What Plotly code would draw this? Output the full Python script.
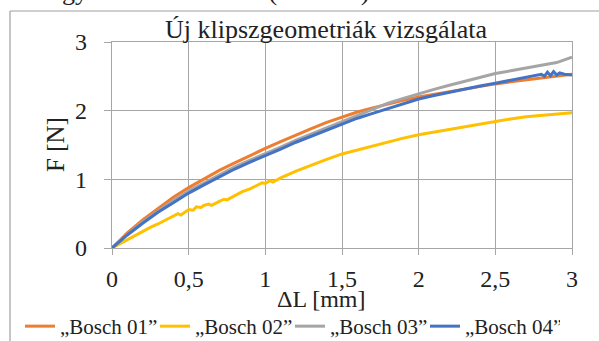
import plotly.graph_objects as go

# ---- data ----
x_common = [0, 0.1, 0.2, 0.3, 0.4, 0.5, 0.6, 0.7, 0.8, 0.9, 1.0, 1.1, 1.2, 1.3, 1.4, 1.5,
            1.6, 1.7, 1.8, 1.9, 2.0, 2.1, 2.2, 2.3, 2.4, 2.5, 2.6, 2.7, 2.8, 2.9, 3.0]

bosch01 = [0, 0.22, 0.41, 0.58, 0.74, 0.88, 1.01, 1.13, 1.24, 1.35, 1.45, 1.55, 1.65, 1.74, 1.83, 1.91,
           1.98, 2.04, 2.10, 2.15, 2.20, 2.24, 2.28, 2.32, 2.36, 2.39, 2.42, 2.45, 2.48, 2.51, 2.53]

bosch03 = [0, 0.20, 0.38, 0.54, 0.69, 0.83, 0.95, 1.07, 1.18, 1.28, 1.37, 1.47, 1.57, 1.66, 1.75, 1.84,
           1.93, 2.03, 2.11, 2.18, 2.25, 2.31, 2.37, 2.43, 2.49, 2.54, 2.58, 2.62, 2.66, 2.70, 2.78]

x_b04 = [0, 0.1, 0.2, 0.3, 0.4, 0.5, 0.6, 0.7, 0.8, 0.9, 1.0, 1.1, 1.2, 1.3, 1.4, 1.5,
         1.6, 1.7, 1.8, 1.9, 2.0, 2.1, 2.2, 2.3, 2.4, 2.5, 2.6, 2.7, 2.75, 2.8, 2.82, 2.84,
         2.86, 2.88, 2.9, 2.92, 2.95, 3.0]
bosch04 = [0, 0.19, 0.36, 0.52, 0.66, 0.80, 0.92, 1.04, 1.15, 1.25, 1.34, 1.44, 1.54, 1.63, 1.72, 1.81,
           1.89, 1.96, 2.03, 2.10, 2.17, 2.22, 2.27, 2.31, 2.36, 2.40, 2.44, 2.48, 2.50, 2.53, 2.50, 2.56,
           2.51, 2.57, 2.52, 2.55, 2.53, 2.52]

x_b02 = [0, 0.05, 0.1, 0.15, 0.2, 0.25, 0.3, 0.35, 0.4, 0.43, 0.45, 0.5, 0.53, 0.55, 0.58, 0.6,
         0.63, 0.65, 0.7, 0.73, 0.75, 0.8, 0.85, 0.9, 0.95, 0.98, 1.0, 1.03, 1.05, 1.1, 1.2, 1.3,
         1.4, 1.5, 1.6, 1.7, 1.8, 1.9, 2.0, 2.1, 2.2, 2.3, 2.4, 2.5, 2.6, 2.7, 2.8, 2.9, 3.0]
bosch02 = [0, 0.06, 0.13, 0.19, 0.25, 0.30, 0.35, 0.41, 0.46, 0.50, 0.48, 0.56, 0.55, 0.60, 0.59, 0.62,
           0.64, 0.62, 0.68, 0.71, 0.70, 0.76, 0.82, 0.86, 0.92, 0.95, 0.94, 0.98, 0.96, 1.02, 1.12, 1.21,
           1.29, 1.37, 1.43, 1.49, 1.55, 1.60, 1.65, 1.69, 1.73, 1.77, 1.81, 1.85, 1.88, 1.91, 1.93, 1.95, 1.97]

x_tick_vals = [0, 0.5, 1, 1.5, 2, 2.5, 3]
x_tick_labels = ["0", "0,5", "1", "1,5", "2", "2,5", "3"]
y_tick_vals = [0, 1, 2, 3]
y_tick_labels = ["0", "1", "2", "3"]

series_names = ["\u201eBosch 01\u201d", "\u201eBosch 02\u201d", "\u201eBosch 03\u201d", "\u201eBosch 04\u201d"]
colors = ["#ED7D31", "#FFC000", "#A5A5A5", "#4472C4"]

FONT = "Liberation Serif, DejaVu Serif, serif"
GRID = "#A6A6A6"
TXT = "#222222"

fig = go.Figure()
fig.add_trace(go.Scatter(x=x_common, y=bosch01, mode="lines", name=series_names[0],
                         line=dict(color=colors[0], width=3)))
fig.add_trace(go.Scatter(x=x_b02, y=bosch02, mode="lines", name=series_names[1],
                         line=dict(color=colors[1], width=3)))
fig.add_trace(go.Scatter(x=x_common, y=bosch03, mode="lines", name=series_names[2],
                         line=dict(color=colors[2], width=3)))
fig.add_trace(go.Scatter(x=x_b04, y=bosch04, mode="lines", name=series_names[3],
                         line=dict(color=colors[3], width=3)))

# plot area in pixels: x 112..572, y 42..248
L, R, T, B = 112, 572, 42, 248
W, H = R - L, B - T

def px(xp):
    return (xp - L) / W

def py(yp):
    return (B - yp) / H

fig.update_layout(
    width=599, height=341,
    margin=dict(l=L, r=599 - R, t=T, b=341 - B, pad=0, autoexpand=False),
    paper_bgcolor="white", plot_bgcolor="white",
    font=dict(family=FONT, color=TXT, size=20),
    showlegend=True,
    legend=dict(orientation="h", x=px(20), xanchor="left", y=py(306), yanchor="top",
                font=dict(family=FONT, size=21, color=TXT),
                entrywidth=90, entrywidthmode="pixels", itemwidth=30,
                bgcolor="rgba(0,0,0,0)", tracegroupgap=0),
    xaxis=dict(range=[0, 3], tickvals=x_tick_vals, ticktext=x_tick_labels,
               showgrid=True, gridcolor=GRID, gridwidth=1.3, zeroline=False,
               showline=True, linecolor=GRID, linewidth=1.3, mirror=True,
               ticks="outside", ticklen=6, tickcolor=GRID, tickwidth=1.3,
               ticklabelstandoff=3,
               tickfont=dict(family=FONT, size=24, color=TXT)),
    yaxis=dict(range=[0, 3], tickvals=y_tick_vals, ticktext=y_tick_labels,
               showgrid=True, gridcolor=GRID, gridwidth=1.3, zeroline=False,
               showline=True, linecolor=GRID, linewidth=1.3, mirror=True,
               ticks="outside", ticklen=7, tickcolor=GRID, tickwidth=1.3,
               ticklabelstandoff=12,
               tickfont=dict(family=FONT, size=24, color=TXT)),
    annotations=[
        dict(text="Új klipszgeometriák vizsgálata", x=px(326), y=py(29), xref="paper", yref="paper",
             xanchor="center", yanchor="middle", showarrow=False,
             font=dict(family=FONT, size=26, color=TXT)),
        dict(text="ΔL [mm]", x=px(321), y=py(299), xref="paper", yref="paper",
             xanchor="center", yanchor="middle", showarrow=False,
             font=dict(family=FONT, size=24, color=TXT)),
        dict(text="F [N]", x=px(55), y=py(145), xref="paper", yref="paper",
             xanchor="center", yanchor="middle", showarrow=False, textangle=-90,
             font=dict(family=FONT, size=25, color=TXT)),
        dict(text="erőre gyakorolt hatásáról (12. ábra).", x=px(378), y=py(-9), xref="paper", yref="paper",
             xanchor="right", yanchor="middle", showarrow=False,
             font=dict(family=FONT, size=26, color=TXT)),
    ],
    shapes=[
        dict(type="line", xref="paper", yref="paper", x0=px(10), x1=px(605), y0=py(11), y1=py(11),
             line=dict(color="#A0A0A0", width=1.2)),
        dict(type="line", xref="paper", yref="paper", x0=px(10), x1=px(10), y0=py(11), y1=py(345),
             line=dict(color="#A0A0A0", width=1.2)),
    ],
)

fig.write_html("out.html", config={"displayModeBar": False},
               post_script="document.body.style.margin='0';document.body.style.overflow='hidden';")
